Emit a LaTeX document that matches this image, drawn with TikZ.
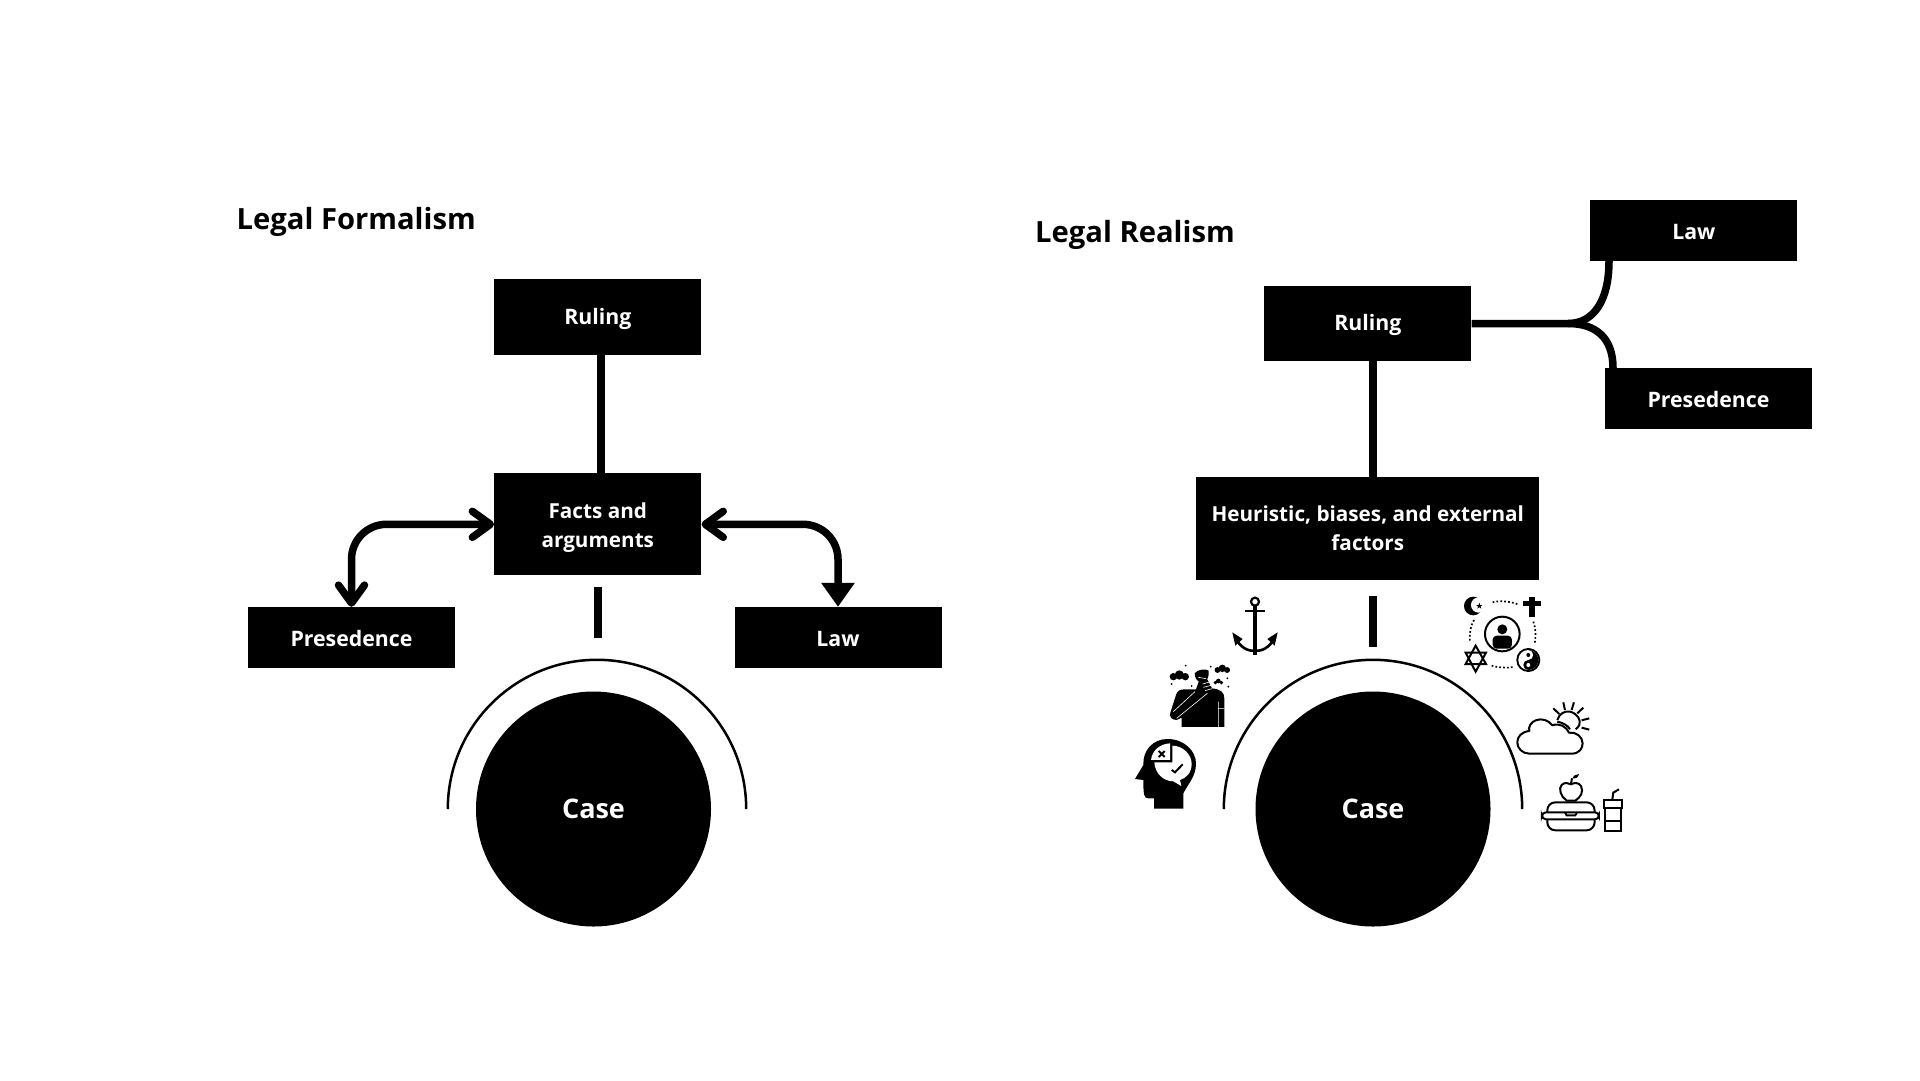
\documentclass[tikz,border=0pt]{standalone}
\usepackage{fontspec}
\setmainfont{Open Sans}
\usetikzlibrary{arrows.meta}
\newcommand{\lowerline}[1]{\raisebox{-3.5pt}[\height][\depth]{#1}}

\begin{document}
\begin{tikzpicture}[x=1pt, y=-1pt,
					blackbox/.style={rectangle, fill=black, text=white, inner sep=0pt, font=\fontsize{21.3}{29.5}\selectfont\bfseries, align=center},
					smallbox/.style={blackbox, minimum width=207pt, minimum height=61.3pt},
					longbox/.style={blackbox, font=\fontsize{20.7}{29}\selectfont\bfseries},
					lowered/.style={execute at begin node={\rule{0pt}{#1}}},
					titletext/.style={anchor=base west, inner sep=0pt, font=\fontsize{29.2}{33}\selectfont\bfseries},
					casedisc/.style={circle, fill=black, text=white, inner sep=0pt, minimum size=235pt, font=\fontsize{27}{30}\selectfont\bfseries},
					stem/.style={line width=8pt},
					curved/.style={line width=7.5pt},
					halo/.style={line width=2.5pt},
					icon/.style={line width=2pt},
					thinwhite/.style={white, line width=.6pt},
					dots/.style={line width=1.7pt, dash pattern=on 1.7pt off 2.2pt}]
\useasboundingbox (0,0) rectangle (1920,1080);

\node[titletext] (title1) at (236.5,229) {Legal Formalism};
\node[blackbox, lowered=19.6pt, minimum width=207pt, minimum height=75.5pt] (ruling1) at (597.8,317) {Ruling};
\node[longbox, minimum width=207pt, minimum height=102pt] (facts1) at (597.8,524.3) {\lowerline{Facts and}\\\lowerline{arguments}};
\node[smallbox, lowered=18.5pt] (presedence1) at (351.5,637.7) {Presedence};
\node[smallbox, lowered=18.5pt] (law1) at (838,637.7) {Law};
\node[casedisc] (case1) at (593.5,809) {Case};
\coordinate (bartop1) at (597.5,587);
\coordinate (barend1) at (597.5,638);
\coordinate (haloleft1) at (447.8,809);

\draw[stem] ([xshift=3.5pt]ruling1.south) -- ([xshift=3.5pt]facts1.north);
\draw[stem] (bartop1) -- (barend1);
\draw[curved, rounded corners=35pt, {Straight Barb[length=18pt, width=26pt, round]}-{Straight Barb[length=18pt, width=26pt, round]}] (facts1.west) -| (presedence1.north);
\draw[curved, rounded corners=35pt, {Straight Barb[length=18pt, width=26pt, round]}-{Triangle[length=24pt, width=32pt]}] (facts1.east) -| (law1.north);
\draw[halo] (haloleft1) arc[start angle=180, end angle=0, radius=149.2pt];

\node[titletext] (title2) at (1035,242.5) {Legal Realism};
\node[smallbox, lowered=17.5pt] (law2) at (1693.8,230.7) {Law};
\node[blackbox, lowered=19.6pt, minimum width=207pt, minimum height=75.5pt] (ruling2) at (1367.8,323.5) {Ruling};
\node[smallbox, lowered=18.5pt] (presedence2) at (1708.5,398.7) {Presedence};
\node[longbox, lowered=20pt, minimum width=343pt, minimum height=102.7pt] (factors2) at (1367.8,528.4) {Heuristic, biases, and external\\factors};
\node[casedisc] (case2) at (1373,809) {Case};
\coordinate (fork2) at (1568,323.5);
\coordinate (lawfoot2) at (1609,261);
\coordinate (presfoot2) at (1613,368);
\coordinate (bartop2) at (1373,596);
\coordinate (barend2) at (1373,647);
\coordinate (haloleft2) at (1223.8,809);

\draw[stem] ([xshift=5pt]ruling2.south) -- ([xshift=5pt]factors2.north);
\draw[stem] (bartop2) -- (barend2);
\draw[curved] (ruling2.east) -- (fork2) .. controls (1594,323.5) and (1609,300) .. (lawfoot2);
\draw[curved] (fork2) .. controls (1596,323.5) and (1613,338) .. (presfoot2);
\draw[halo] (haloleft2) arc[start angle=180, end angle=0, radius=149.2pt];

\begin{scope}[shift={(1120,580)}, x=.3333pt, y=-.3333pt]
	% anchor
	\draw[line width=2.2pt] (405,65) circle[radius=12];
	\draw[line width=2.2pt] (376,92) -- (435,92);
	\draw[line width=3.4pt] (405,77) -- (405,224);
	\draw[line width=2.6pt] (345,172) .. controls (362,205) and (385,213) .. (405,213) .. controls (425,213) and (448,205) .. (465,172);
	\fill (337,157) -- (368,177) -- (346,197) -- cycle;
	\fill (473,157) -- (442,177) -- (464,197) -- cycle;
	% person
	\fill (185,441) -- (185,413) -- (170,420) .. controls (155,420) and (147,410) .. (151,398) -- (168,345) .. controls (172,332) and (180,328) .. (195,328) -- (228,328) -- (238,300) -- (262,298) -- (276,325) .. controls (300,328) and (313,335) .. (313,355) -- (313,441) -- cycle;
	\fill (224,280) .. controls (232,268) and (258,265) .. (266,272) .. controls (268,290) and (262,305) .. (245,308) .. controls (232,305) and (224,295) .. (224,280);
	\draw[thinwhite] (160,395) -- (225,335) (170,415) -- (262,340) (295,365) -- (295,441) (295,385) -- (313,385);
	\draw[thinwhite] (248,312) -- (276,304) (250,322) -- (278,315) (255,332) -- (276,326) (235,292) -- (258,296);
	\foreach \cx/\cy/\cs in {178/287/1, 307/267/.8, 295/305/.5}
		\fill (\cx-18*\cs,\cy+3) circle[radius=11*\cs] (\cx,\cy-2) circle[radius=14*\cs] (\cx+18*\cs,\cy+3) circle[radius=11*\cs];
	\foreach \dx/\dy in {197/257, 155/312, 272/260, 325/320, 322/295, 215/318}
		\fill (\dx,\dy) circle[radius=3];
	% head
	\fill (102,686) -- (102,655) -- (85,655) .. controls (72,655) and (70,645) .. (70,600) -- (45,597) -- (70,555) .. controls (68,510) and (100,477) .. (142,477) .. controls (195,477) and (228,515) .. (228,550) .. controls (228,590) and (205,610) .. (190,640) -- (190,686) -- cycle;
	\fill[white] (157,497) .. controls (190,497) and (215,525) .. (215,552) .. controls (215,578) and (198,595) .. (180,600) -- (184,618) -- (160,604) .. controls (130,604) and (105,580) .. (103,547) -- (157,547) -- cycle;
	\fill[white] (93,540) .. controls (97,510) and (120,492) .. (150,490) -- (150,540) -- cycle;
	\draw[icon] (116,513) -- (134,531) (134,513) -- (116,531);
	\draw[icon] (155,570) -- (165,577) -- (188,553);
	% beliefs
	\fill (1060,78) circle[radius=28];
	\fill[white] (1076,75) circle[radius=23];
	\fill (1078,68) -- (1084,86) -- (1068.5,75) -- (1087.5,75) -- (1072,86) -- cycle;
	\fill (1228,50) rectangle (1246,112);
	\fill (1210,63) rectangle (1262,78);
	\draw[dots] (1118,67) .. controls (1140,60) and (1175,65) .. (1197,74);
	\draw[dots] (1240,125) .. controls (1248,145) and (1248,170) .. (1244,192);
	\draw[dots] (1062,120) .. controls (1050,140) and (1048,165) .. (1050,187);
	\draw[dots] (1115,257) .. controls (1135,263) and (1160,265) .. (1182,261);
	\draw[icon] (1147,162) circle[radius=52];
	\fill (1147,148) circle[radius=15];
	\fill[rounded corners=4pt] (1118,206) -- (1118,167) -- (1176,167) -- (1176,206) -- cycle;
	\draw[icon] (1067,197) -- (1098,252) -- (1037,252) -- cycle;
	\draw[icon] (1067,275) -- (1098,218) -- (1037,218) -- cycle;
	\fill (1225,240) circle[radius=36];
	\fill[white] (1225,240) circle[radius=30];
	\fill (1225,210) arc[start angle=90, end angle=-90, radius=10pt] arc[start angle=-90, end angle=-270, radius=5pt] arc[start angle=-90, end angle=90, radius=5pt];
	\fill (1225,225) circle[radius=6];
	\fill[white] (1225,255) circle[radius=6];
	% weather
	\draw[icon, line join=round] (1228,521) -- (1355,521) .. controls (1378,521) and (1388,505) .. (1388,490) .. controls (1388,470) and (1368,455) .. (1347,458) .. controls (1340,440) and (1318,428) .. (1297,436) .. controls (1285,420) and (1265,415) .. (1250,420) .. controls (1232,426) and (1225,440) .. (1228,453) .. controls (1205,455) and (1192,470) .. (1192,487) .. controls (1192,505) and (1207,521) .. (1228,521);
	\draw[icon] (1312,420) .. controls (1318,400) and (1335,392) .. (1350,395) .. controls (1372,400) and (1384,420) .. (1378,435) .. controls (1375,440) and (1372,445) .. (1367,448);
	\draw[icon] (1300,385) -- (1318,402) (1330,367) -- (1335,390) (1362,367) -- (1355,390) (1390,383) -- (1372,400) (1408,415) -- (1385,421) (1408,449) -- (1385,443);
	\draw[icon] (1312,425) .. controls (1330,428) and (1345,438) .. (1350,448);
	% lunch
	\draw[icon] (1340,662) .. controls (1322,650) and (1315,625) .. (1325,615) .. controls (1335,605) and (1345,610) .. (1353,613) .. controls (1362,608) and (1375,606) .. (1383,618) .. controls (1392,635) and (1382,652) .. (1366,662) -- cycle;
	\draw[icon] (1353,612) -- (1356,595);
	\fill (1358,596) .. controls (1358,588) and (1368,582) .. (1377,582) .. controls (1375,592) and (1367,598) .. (1358,596);
	\draw[icon, rounded corners=8pt] (1282,698) -- (1282,667) -- (1424,667) -- (1424,698);
	\draw[icon, rounded corners=4pt] (1266,697) rectangle (1437,718);
	\draw[icon, rounded corners=8pt] (1282,718) -- (1282,751) -- (1424,751) -- (1424,718);
	\draw[icon] (1335,697) -- (1340,706) -- (1366,706) -- (1371,697);
	\draw[icon] (1451,659) rectangle (1507,685);
	\draw[icon] (1455,685) -- (1455,752) -- (1503,752) -- (1503,685);
	\draw[icon] (1455,722) -- (1503,722);
	\draw[icon] (1477,659) -- (1480,638) -- (1497,628);
\end{scope}
\end{tikzpicture}
\end{document}
